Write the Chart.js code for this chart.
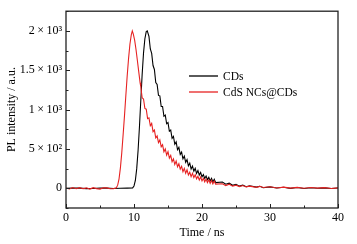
<!DOCTYPE html>
<html>
<head>
<meta charset="utf-8">
<script src="https://cdn.jsdelivr.net/npm/chart.js@4/dist/chart.umd.min.js"></script>
<style>
  html, body { margin: 0; padding: 0; background: #fff; }
  canvas { display: block; }
</style>
</head>
<body>
<canvas id="plCurvas" width="357" height="244"></canvas>
<script>
/* ===================== DATOS ===================== */
const etiquetas = ["CDs", "CdS NCs@CDs"];
const colores = ["#000000", "#e62222"];

// CDs
const tiempoCDs = [0, 1, 2, 3, 4, 5, 6, 7, 8, 9, 9.8, 10.0, 10.2, 10.4, 10.6, 10.8, 11.0, 11.2, 11.4, 11.6, 11.8, 11.95,
  12.2, 12.4, 12.6, 12.8, 13.0, 13.2, 13.4, 13.6, 13.8, 14.0, 14.2, 14.4, 14.6, 14.8, 15.0, 15.2, 15.4, 15.6, 15.8,
  16.0, 16.2, 16.4, 16.6, 16.8, 17.0, 17.2, 17.4, 17.6, 17.8, 18.0, 18.2, 18.4, 18.6, 18.8, 19.0, 19.2, 19.4, 19.6, 19.8,
  20.0, 20.2, 20.4, 20.6, 20.8, 21.0, 21.2, 21.4, 21.6, 21.8, 22.0,
  23, 23.5, 24, 24.5, 25, 25.5, 26, 26.5, 27, 28, 28.5, 29, 30, 31, 32, 33, 34, 35, 36, 37, 38, 39, 40];
const intensidadCDs = [0, 4, 3, -4, -3, 2, 2, -2, 0, 2, 5, 30, 100, 250, 480, 780, 1120, 1450, 1720, 1900, 1990, 2000,
  1930, 1770, 1715, 1560, 1510, 1345, 1320, 1180, 1175, 1040, 1040, 915, 930, 820, 835, 725, 740, 635, 660,
  560, 590, 490, 520, 430, 460, 375, 410, 330, 365, 285, 320, 245, 283, 217, 253, 189, 225, 168, 201,
  145, 175, 126, 157, 109, 141, 94, 127, 80, 114, 73,
  80, 52, 65, 38, 52, 28, 40, 20, 32, 15, 26, 8, 18, 4, 14, 0, 10, -2, 8, 0, 6, -3, 4];

// CdS NCs@CDs
const tiempoCdS = [0, 0.5, 1, 1.5, 2, 2.5, 3, 3.5, 4, 4.5, 5, 5.5, 6, 6.5, 7, 7.4, 7.6, 7.8, 8.0, 8.2, 8.4, 8.6, 8.8,
  9.0, 9.2, 9.4, 9.6, 9.75, 9.9, 10.1, 10.3, 10.5, 10.7, 10.9,
  11.0, 11.2, 11.4, 11.6, 11.8, 12.0, 12.2, 12.4, 12.6, 12.8, 13.0, 13.2, 13.4, 13.6, 13.8, 14.0, 14.2, 14.4, 14.6, 14.8,
  15.0, 15.2, 15.4, 15.6, 15.8, 16.0, 16.2, 16.4, 16.6, 16.8, 17.0, 17.2, 17.4, 17.6, 17.8, 18.0, 18.2, 18.4, 18.6, 18.8,
  19.0, 19.2, 19.4, 19.6, 19.8, 20.0, 20.2, 20.4, 20.6, 20.8, 21.0, 21.2, 21.4, 21.6, 21.8, 22.0,
  23, 23.5, 24, 24.5, 25, 25.5, 26, 26.5, 27, 28, 28.5, 29, 30, 31, 32, 33, 34, 35, 36, 37, 38, 39, 40];
const intensidadCdS = [5, -8, 10, -5, 8, -6, 6, -10, 8, -4, -10, 7, 6, -6, -4, 8, 40, 120, 260, 450, 680, 920, 1180,
  1430, 1650, 1830, 1950, 2000, 1960, 1880, 1760, 1620, 1480, 1340,
  1290, 1150, 1135, 1015, 1005, 885, 895, 795, 825, 720, 740, 640, 665, 580, 615, 527, 555, 465, 500, 422,
  465, 383, 418, 338, 375, 302, 345, 273, 313, 243, 279, 211, 253, 191, 235, 169, 204, 149, 190, 136,
  173, 120, 153, 106, 145, 94, 128, 83, 118, 73, 108, 64, 100, 56, 92, 54,
  58, 35, 52, 28, 40, 22, 35, 18, 28, 12, 25, 10, 20, 5, 15, 2, 12, 0, 10, 2, 9, -2, 6];

// Ejes
const xMin = 0, xMax = 40, xPaso = 5;
const xTickValores = [0, 10, 20, 30, 40];
const yMin = -250, yMax = 2250, yPaso = 250;
const yTickValores = [0, 500, 1000, 1500, 2000];
const yTickTextos = ["0", "5\u2009×\u200910²", "1\u2009×\u200910³", "1.5\u2009×\u200910³", "2\u2009×\u200910³"];
const tituloX = "Time / ns";
const tituloY = "PL intensity / a.u.";

/* ===================== UTIL ===================== */
const fuente = "'Liberation Serif', 'Times New Roman', serif";
const puntos = (xs, ys) => xs.map((x, i) => ({ x: x, y: ys[i] }));

/* ===================== PLUGIN: MARCO + TICKS ===================== */
const marcoPlugin = {
  id: "marco",
  afterDatasetsDraw(chart) {
    const { ctx, chartArea: a, scales } = chart;
    ctx.save();
    ctx.strokeStyle = "#222";
    ctx.lineWidth = 1;
    // ticks hacia adentro, eje x
    scales.x.ticks.forEach((t) => {
      const px = Math.round(scales.x.getPixelForValue(t.value)) + 0.5;
      const largo = xTickValores.includes(t.value) ? 4 : 2.5;
      ctx.beginPath();
      ctx.moveTo(px, a.bottom);
      ctx.lineTo(px, a.bottom - largo);
      ctx.stroke();
    });
    // ticks hacia adentro, eje y
    scales.y.ticks.forEach((t) => {
      const py = Math.round(scales.y.getPixelForValue(t.value)) + 0.5;
      const largo = yTickValores.includes(t.value) ? 4 : 2.5;
      ctx.beginPath();
      ctx.moveTo(a.left, py);
      ctx.lineTo(a.left + largo, py);
      ctx.stroke();
    });
    ctx.lineWidth = 1.3;
    ctx.strokeRect(a.left, a.top, a.right - a.left, a.bottom - a.top);
    ctx.restore();
  },
};

/* ===================== PLUGIN: LEYENDA ===================== */
const leyendaPlugin = {
  id: "leyendaInterna",
  afterDraw(chart) {
    const { ctx } = chart;
    ctx.save();
    ctx.font = "11.5px " + fuente;
    ctx.textBaseline = "middle";
    chart.data.datasets.forEach((ds, i) => {
      const y = 76 + i * 16;
      ctx.strokeStyle = ds.borderColor;
      ctx.lineWidth = 1.3;
      ctx.beginPath();
      ctx.moveTo(189, y);
      ctx.lineTo(218, y);
      ctx.stroke();
      ctx.fillStyle = "#000";
      ctx.fillText(ds.label, 223, y + 0.5);
    });
    ctx.restore();
  },
};

/* ===================== GRAFICO ===================== */
new Chart(document.getElementById("plCurvas"), {
  type: "line",
  data: {
    datasets: [
      {
        label: etiquetas[0],
        data: puntos(tiempoCDs, intensidadCDs),
        borderColor: colores[0],
        borderWidth: 1.1,
        pointRadius: 0,
        tension: 0,
        order: 1,
      },
      {
        label: etiquetas[1],
        data: puntos(tiempoCdS, intensidadCdS),
        borderColor: colores[1],
        borderWidth: 1.1,
        pointRadius: 0,
        tension: 0,
        order: 0,
      },
    ],
  },
  plugins: [marcoPlugin, leyendaPlugin],
  options: {
    responsive: false,
    animation: false,
    layout: { padding: { left: 0, right: 19, top: 8, bottom: 0 } },
    plugins: { legend: { display: false }, tooltip: { enabled: false } },
    scales: {
      x: {
        type: "linear",
        min: xMin,
        max: xMax,
        grid: { display: false, drawTicks: false },
        border: { display: false },
        ticks: {
          stepSize: xPaso,
          autoSkip: false,
          maxRotation: 0,
          padding: 3,
          color: "#000",
          font: { family: fuente, size: 12 },
          callback: (v) => (xTickValores.includes(v) ? String(v) : ""),
        },
        title: {
          display: true,
          text: tituloX,
          color: "#000",
          font: { family: fuente, size: 12 },
          padding: { top: 0, bottom: 4 },
        },
        afterFit: (s) => { s.height = 36; },
      },
      y: {
        min: yMin,
        max: yMax,
        grid: { display: false, drawTicks: false },
        border: { display: false },
        ticks: {
          stepSize: yPaso,
          autoSkip: false,
          padding: 4,
          color: "#000",
          font: { family: fuente, size: 12 },
          callback: (v) => {
            const i = yTickValores.indexOf(v);
            return i >= 0 ? yTickTextos[i] : "";
          },
        },
        title: {
          display: true,
          text: tituloY,
          color: "#000",
          font: { family: fuente, size: 12 },
          padding: { top: 5, bottom: 0 },
        },
        afterFit: (s) => { s.width = 66; },
      },
    },
  },
});
</script>
</body>
</html>
